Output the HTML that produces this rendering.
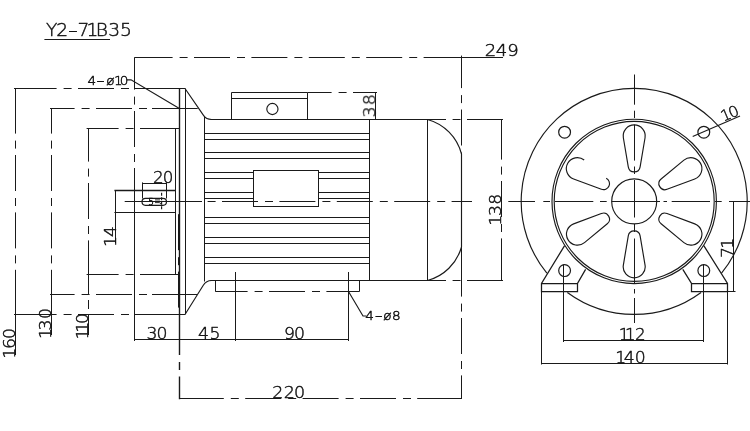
<!DOCTYPE html>
<html><head><meta charset="utf-8"><title>Y2-71B35</title>
<style>
html,body{margin:0;padding:0;background:#fff;}
body{width:750px;height:431px;overflow:hidden;}
svg{display:block;}
svg line,svg path,svg circle,svg rect{fill:none;stroke:#1a1a1a;}
svg text{font-family:"DejaVu Sans Light","DejaVu Sans","Liberation Sans",sans-serif;font-weight:200;fill:#111;stroke:#111;stroke-width:0.45px;stroke-linejoin:round;}
</style></head><body>
<svg width="750" height="431" viewBox="0 0 750 431" stroke-width="1.15" stroke-linecap="butt">
<line x1="69.00" y1="31.50" x2="77.00" y2="31.50" stroke-width="1.0" />
<line x1="44.40" y1="39.50" x2="110.00" y2="39.50" stroke-width="1.2" />
<path d="M134.40 57.50H172.60M179.60 57.50H187.60M194.00 57.50H230.00M237.00 57.50H245.00M251.40 57.50H287.40M294.40 57.50H302.40M308.80 57.50H344.80M351.80 57.50H359.80M366.20 57.50H402.20M409.20 57.50H417.20M423.60 57.50H503.00" stroke-width="1.0"/>
<path d="M14.00 88.50H56.60M63.60 88.50H71.60M78.00 88.50H114.00M121.00 88.50H129.00M134.00 88.50H185.20" stroke-width="1.0"/>
<path d="M14.00 314.50H56.60M63.60 314.50H71.60M78.00 314.50H114.00M121.00 314.50H129.00M134.00 314.50H185.20" stroke-width="1.0"/>
<path d="M50.00 108.50H74.60M81.60 108.50H89.60M96.00 108.50H132.00M139.00 108.50H147.00M152.00 108.50H197.70" stroke-width="1.0"/>
<path d="M50.00 294.50H74.60M81.60 294.50H89.60M96.00 294.50H132.00M139.00 294.50H147.00M152.00 294.50H197.00" stroke-width="1.0"/>
<path d="M86.60 128.50H118.60M125.60 128.50H133.60M140.00 128.50H179.30" stroke-width="1.0"/>
<path d="M86.60 274.50H118.60M125.60 274.50H133.60M140.00 274.50H179.30" stroke-width="1.0"/>
<path d="M15.50 88.60V133.60M15.50 140.60V148.60M15.50 155.00V191.00M15.50 198.00V206.00M15.50 212.40V248.40M15.50 255.40V263.40M15.50 269.80V355.00" stroke-width="1.0"/>
<path d="M51.50 108.40V133.60M51.50 140.60V148.60M51.50 155.00V191.00M51.50 198.00V206.00M51.50 212.40V248.40M51.50 255.40V263.40M51.50 269.80V335.00" stroke-width="1.0"/>
<path d="M88.50 128.40V161.60M88.50 168.60V176.60M88.50 183.00V219.00M88.50 226.00V234.00M88.50 240.40V295.00" stroke-width="1.0"/>
<line x1="88.50" y1="300.00" x2="88.50" y2="309.00" stroke-width="1.0" />
<line x1="88.50" y1="315.00" x2="88.50" y2="335.00" stroke-width="1.0" />
<path d="M134.50 57.40V89.60M134.50 96.60V104.60M134.50 111.00V147.00M134.50 154.00V162.00M134.50 168.00V191.00" stroke-width="1.0"/>
<line x1="134.50" y1="191.00" x2="134.50" y2="341.00" stroke-width="1.0" />
<line x1="179.50" y1="88.60" x2="179.50" y2="314.20" stroke-width="1.4" />
<line x1="185.50" y1="88.60" x2="185.50" y2="314.20" stroke-width="1.0" />
<path d="M178.50 214.20V250.20M178.50 257.20V265.20M178.50 271.60V307.60" stroke-width="1.0"/>
<line x1="175.50" y1="128.40" x2="175.50" y2="274.60" stroke-width="1.0" />
<path d="M185 88.5 L203.5 115.4 Q206.3 119.5 211.5 119.5"/>
<path d="M185 314.5 L203.3 285.3 Q206.3 280.5 211.5 280.5"/>
<path d="M127 79.8 H131 L179.4 108.5"/>
<line x1="97.00" y1="81.50" x2="104.00" y2="81.50" stroke-width="1.0" />
<line x1="114.40" y1="190.50" x2="175.60" y2="190.50" stroke-width="1.6" />
<line x1="114.40" y1="212.50" x2="175.60" y2="212.50" stroke-width="1.0" />
<line x1="115.50" y1="190.80" x2="115.50" y2="243.00" stroke-width="1.0" />
<rect x="142" y="198.3" width="24.5" height="7" rx="3.5" ry="3.5" stroke-width="1.2"/>
<line x1="142.50" y1="182.40" x2="142.50" y2="198.50" stroke-width="1.0" />
<line x1="166.50" y1="182.40" x2="166.50" y2="198.50" stroke-width="1.0" />
<line x1="142.00" y1="183.50" x2="167.00" y2="183.50" stroke-width="1.0" />
<path d="M161.6 192.8V210.2" stroke-dasharray="3 1.5"/>
<path d="M155 199.9H160M155 202.6H159.3Q160.8 202.8 160.8 204.2" stroke-width="0.9"/>
<line x1="204.50" y1="116.50" x2="204.50" y2="281.50" stroke-width="1.0" />
<line x1="210.50" y1="119.50" x2="446.00" y2="119.50" stroke-width="1.0" />
<line x1="210.50" y1="280.50" x2="446.00" y2="280.50" stroke-width="1.0" />
<line x1="204.50" y1="133.50" x2="369.00" y2="133.50" stroke-width="1.0" />
<line x1="204.50" y1="139.50" x2="369.00" y2="139.50" stroke-width="1.0" />
<line x1="204.50" y1="152.50" x2="369.00" y2="152.50" stroke-width="1.0" />
<line x1="204.50" y1="158.50" x2="369.00" y2="158.50" stroke-width="1.0" />
<line x1="204.50" y1="172.50" x2="253.60" y2="172.50" stroke-width="1.0" />
<line x1="318.60" y1="172.50" x2="369.00" y2="172.50" stroke-width="1.0" />
<line x1="204.50" y1="178.50" x2="253.60" y2="178.50" stroke-width="1.0" />
<line x1="318.60" y1="178.50" x2="369.00" y2="178.50" stroke-width="1.0" />
<line x1="204.50" y1="192.50" x2="253.60" y2="192.50" stroke-width="1.0" />
<line x1="318.60" y1="192.50" x2="369.00" y2="192.50" stroke-width="1.0" />
<line x1="204.50" y1="198.50" x2="253.60" y2="198.50" stroke-width="1.0" />
<line x1="318.60" y1="198.50" x2="369.00" y2="198.50" stroke-width="1.0" />
<line x1="204.50" y1="217.50" x2="369.00" y2="217.50" stroke-width="1.0" />
<line x1="204.50" y1="223.50" x2="369.00" y2="223.50" stroke-width="1.0" />
<line x1="204.50" y1="237.50" x2="369.00" y2="237.50" stroke-width="1.0" />
<line x1="204.50" y1="243.50" x2="369.00" y2="243.50" stroke-width="1.0" />
<line x1="204.50" y1="257.50" x2="369.00" y2="257.50" stroke-width="1.0" />
<line x1="204.50" y1="263.50" x2="369.00" y2="263.50" stroke-width="1.0" />
<line x1="369.50" y1="119.40" x2="369.50" y2="280.40" stroke-width="1.0" />
<line x1="427.50" y1="119.40" x2="427.50" y2="280.40" stroke-width="1.0" />
<rect x="253.5" y="170.5" width="65" height="36" stroke-width="1"/>
<path d="M231.5 119.5V92.5H307.5V119.5M231.5 98.5H307.5" stroke-width="1"/>
<circle cx="272.4" cy="109" r="5.6"/>
<path d="M307.60 92.50H331.60M338.60 92.50H346.60M353.00 92.50H377.00" stroke-width="1.0"/>
<line x1="375.50" y1="92.00" x2="375.50" y2="119.40" stroke-width="1.0" />
<path d="M427.5 119.5 A48.4 48.4 0 0 1 461.5 154 V247 A48.4 48.4 0 0 1 427.5 280.5"/>
<line x1="215.50" y1="280.40" x2="215.50" y2="291.60" stroke-width="1.0" />
<line x1="359.50" y1="280.40" x2="359.50" y2="291.60" stroke-width="1.0" />
<path d="M215.40 291.50H247.60M254.60 291.50H262.60M269.00 291.50H305.00M312.00 291.50H320.00M326.40 291.50H359.40" stroke-width="1.0"/>
<path d="M124.70 201.50H202.00M207.60 201.50H215.60M222.00 201.50H258.00M265.00 201.50H273.00M279.40 201.50H315.40M322.40 201.50H330.40M336.80 201.50H372.80M379.80 201.50H387.80M394.20 201.50H430.20M437.20 201.50H445.20M451.60 201.50H472.00" stroke-width="1.0"/>
<path d="M427.40 119.50H445.60M452.60 119.50H460.60M467.00 119.50H503.00" stroke-width="1.0"/>
<path d="M427.40 280.50H445.60M452.60 280.50H460.60M467.00 280.50H503.00" stroke-width="1.0"/>
<path d="M501.50 119.40V159.60M501.50 166.60V174.60M501.50 181.00V217.00M501.50 224.00V232.00M501.50 238.40V280.40" stroke-width="1.0"/>
<path d="M461.50 55.60V88.10M461.50 95.10V103.10M461.50 109.50V145.50M461.50 152.50V154.00" stroke-width="1.0"/>
<path d="M461.50 247.00V296.60M461.50 303.60V311.60M461.50 318.00V354.00M461.50 361.00V369.00M461.50 375.40V399.00" stroke-width="1.0"/>
<line x1="134.40" y1="339.50" x2="348.60" y2="339.50" stroke-width="1.0" />
<line x1="235.50" y1="272.00" x2="235.50" y2="341.00" stroke-width="1.0" />
<line x1="348.50" y1="272.00" x2="348.50" y2="341.00" stroke-width="1.0" />
<path d="M179.50 314.20V355.00M179.50 362.00V370.00M179.50 376.40V399.20" stroke-width="1.4"/>
<path d="M179.40 398.50H223.80M230.80 398.50H238.80M245.20 398.50H281.20M288.20 398.50H296.20M302.60 398.50H338.60M345.60 398.50H353.60M360.00 398.50H396.00M403.00 398.50H411.00M417.20 398.50H461.40" stroke-width="1.0"/>
<path d="M348.5 291.5 L363 316 H366.4"/>
<line x1="375.40" y1="316.50" x2="382.00" y2="316.50" stroke-width="1.0" />
<circle cx="634.2" cy="201.4" r="82.2"/>
<circle cx="634.2" cy="201.4" r="80"/>
<circle cx="634.2" cy="201.4" r="22.5"/>
<path d="M546.87 273.11A113 113 0 1 1 721.53 273.11"/>
<path d="M701.06 292.50A113 113 0 0 1 567.34 292.50"/>
<path transform="translate(634.2 201.4) rotate(0)" d="M-10.85 -63.67A11 11 0 1 1 10.85 -63.67L5.92 -34.5A6 6 0 0 1 -5.92 -34.5Z"/>
<path transform="translate(634.2 201.4) rotate(60)" d="M-10.85 -63.67A11 11 0 1 1 10.85 -63.67L5.92 -34.5A6 6 0 0 1 -5.92 -34.5Z"/>
<path transform="translate(634.2 201.4) rotate(120)" d="M-10.85 -63.67A11 11 0 1 1 10.85 -63.67L5.92 -34.5A6 6 0 0 1 -5.92 -34.5Z"/>
<path transform="translate(634.2 201.4) rotate(180)" d="M-10.85 -63.67A11 11 0 1 1 10.85 -63.67L5.92 -34.5A6 6 0 0 1 -5.92 -34.5Z"/>
<path transform="translate(634.2 201.4) rotate(240)" d="M-10.85 -63.67A11 11 0 1 1 10.85 -63.67L5.92 -34.5A6 6 0 0 1 -5.92 -34.5Z"/>
<path d="M584.2 160 A11 11 0 1 0 573.64 178.96 L601.37 189.27 A6 6 0 0 0 606.2 178.3"/>
<circle cx="564.6" cy="132.2" r="5.9" stroke-width="1.2"/>
<circle cx="564.6" cy="270.6" r="5.9" stroke-width="1.2"/>
<circle cx="703.8" cy="132.2" r="5.9" stroke-width="1.2"/>
<circle cx="703.8" cy="270.6" r="5.9" stroke-width="1.2"/>
<path d="M692.7 136.5 L740 116"/>
<path d="M564.6 245.6 L541.5 283.5 V291.5 H577.5 V283.5 L585.6 269.4" stroke-width="1.25"/>
<line x1="541.00" y1="283.50" x2="577.40" y2="283.50" stroke-width="1.25" />
<path d="M703.8 245.6 L727.5 283.5 V291.5 H691.5 V283.5 L682.8 269.4" stroke-width="1.25"/>
<line x1="691.20" y1="283.50" x2="727.20" y2="283.50" stroke-width="1.25" />
<line x1="563.50" y1="264.40" x2="563.50" y2="342.00" stroke-width="1.0" />
<line x1="703.50" y1="264.40" x2="703.50" y2="342.00" stroke-width="1.0" />
<line x1="563.60" y1="340.50" x2="704.00" y2="340.50" stroke-width="1.0" />
<line x1="541.50" y1="291.40" x2="541.50" y2="364.50" stroke-width="1.0" />
<line x1="727.50" y1="291.40" x2="727.50" y2="364.50" stroke-width="1.0" />
<line x1="541.00" y1="363.50" x2="727.20" y2="363.50" stroke-width="1.0" />
<line x1="733.50" y1="202.00" x2="733.50" y2="291.40" stroke-width="1.0" />
<line x1="727.20" y1="291.50" x2="735.50" y2="291.50" stroke-width="1.0" />
<path d="M508.3 201.5H535M543.3 201.5H550M555 201.5H593.3M600 201.5H606.7M611.7 201.5H660M663.5 201.5H667M671.7 201.5H710M715 201.5H721.7M729 201.5H750" stroke-width="1"/>
<path d="M634.5 74.5V104.7M634.5 110.7V118M634.5 124.6V160.6M634.5 166.5V174M634.5 180V217.5M634.5 224V232M634.5 238.5V284M634.5 289V293.5M634.5 298V323" stroke-width="1"/>
<g opacity="0.999">
<text transform="translate(51.60 36.00) scale(1.08 1)" font-size="17.28" text-anchor="middle"><tspan x="0.00" y="0">Y</tspan><tspan x="9.81" y="0">2</tspan><tspan x="19.81" y="0">-</tspan><tspan x="29.44" y="0">7</tspan><tspan x="37.78" y="0">1</tspan><tspan x="46.48" y="0">B</tspan><tspan x="57.96" y="0">3</tspan><tspan x="68.89" y="0">5</tspan></text>
<text transform="translate(490.40 55.80) scale(1.2 1)" font-size="15.09" text-anchor="middle"><tspan x="0.00" y="0">2</tspan><tspan x="9.33" y="0">4</tspan><tspan x="18.83" y="0">9</tspan></text>
<text transform="translate(15.20 353.20) rotate(-90) scale(1.05 1)" font-size="16.46" text-anchor="middle"><tspan x="0.00" y="0">1</tspan><tspan x="9.24" y="0">6</tspan><tspan x="18.76" y="0">0</tspan></text>
<text transform="translate(51.30 333.50) rotate(-90) scale(1.05 1)" font-size="16.46" text-anchor="middle"><tspan x="0.00" y="0">1</tspan><tspan x="8.10" y="0">3</tspan><tspan x="19.05" y="0">0</tspan></text>
<text transform="translate(88.00 334.10) rotate(-90) scale(1.05 1)" font-size="16.46" text-anchor="middle"><tspan x="0.00" y="0">1</tspan><tspan x="6.57" y="0">1</tspan><tspan x="14.86" y="0">0</tspan></text>
<text transform="translate(91.80 84.60) scale(1.1 1)" font-size="12.35" text-anchor="middle"><tspan x="0.00" y="0">4</tspan><tspan x="7.91" y="0">-</tspan><tspan x="17.00" y="0">ø</tspan><tspan x="24.09" y="0">1</tspan><tspan x="29.27" y="0">0</tspan></text>
<text transform="translate(115.60 241.50) rotate(-90) scale(1.05 1)" font-size="16.46" text-anchor="middle"><tspan x="0.00" y="0">1</tspan><tspan x="9.52" y="0">4</tspan></text>
<text transform="translate(158.20 183.00) scale(1.05 1)" font-size="15.91" text-anchor="middle"><tspan x="0.00" y="0">2</tspan><tspan x="9.52" y="0">0</tspan></text>
<text transform="translate(151.00 205.00) scale(1.05 1)" font-size="8.50" text-anchor="middle"><tspan x="0.00" y="0">5</tspan></text>
<text transform="translate(375.20 111.90) rotate(-90) scale(1.05 1)" font-size="16.46" text-anchor="middle"><tspan x="0.00" y="0">3</tspan><tspan x="11.52" y="0">8</tspan></text>
<text transform="translate(500.90 220.30) rotate(-90) scale(1.05 1)" font-size="16.46" text-anchor="middle"><tspan x="0.00" y="0">1</tspan><tspan x="9.24" y="0">3</tspan><tspan x="20.10" y="0">8</tspan></text>
<text transform="translate(152.00 339.20) scale(1.05 1)" font-size="16.46" text-anchor="middle"><tspan x="0.00" y="0">3</tspan><tspan x="9.52" y="0">0</tspan></text>
<text transform="translate(203.60 339.20) scale(1.05 1)" font-size="16.46" text-anchor="middle"><tspan x="0.00" y="0">4</tspan><tspan x="10.86" y="0">5</tspan></text>
<text transform="translate(289.40 339.20) scale(1.05 1)" font-size="16.46" text-anchor="middle"><tspan x="0.00" y="0">9</tspan><tspan x="9.62" y="0">0</tspan></text>
<text transform="translate(277.90 397.60) scale(1.08 1)" font-size="16.19" text-anchor="middle"><tspan x="0.00" y="0">2</tspan><tspan x="10.56" y="0">2</tspan><tspan x="20.00" y="0">0</tspan></text>
<text transform="translate(369.60 320.40) scale(1.1 1)" font-size="12.35" text-anchor="middle"><tspan x="0.00" y="0">4</tspan><tspan x="8.27" y="0">-</tspan><tspan x="16.18" y="0">ø</tspan><tspan x="24.36" y="0">8</tspan></text>
<text transform="translate(727.80 119.90) rotate(-23) scale(1.05 1)" font-size="15.09" text-anchor="middle"><tspan x="0.00" y="0">1</tspan><tspan x="8.19" y="0">0</tspan></text>
<text transform="translate(624.00 340.20) scale(1.05 1)" font-size="15.91" text-anchor="middle"><tspan x="0.00" y="0">1</tspan><tspan x="6.10" y="0">1</tspan><tspan x="15.43" y="0">2</tspan></text>
<text transform="translate(620.70 362.90) scale(1.05 1)" font-size="16.46" text-anchor="middle"><tspan x="0.00" y="0">1</tspan><tspan x="8.10" y="0">4</tspan><tspan x="18.57" y="0">0</tspan></text>
<text transform="translate(733.00 252.40) rotate(-90) scale(1.05 1)" font-size="16.46" text-anchor="middle"><tspan x="0.00" y="0">7</tspan><tspan x="8.67" y="0">1</tspan></text>
</g>
</svg>
</body></html>
